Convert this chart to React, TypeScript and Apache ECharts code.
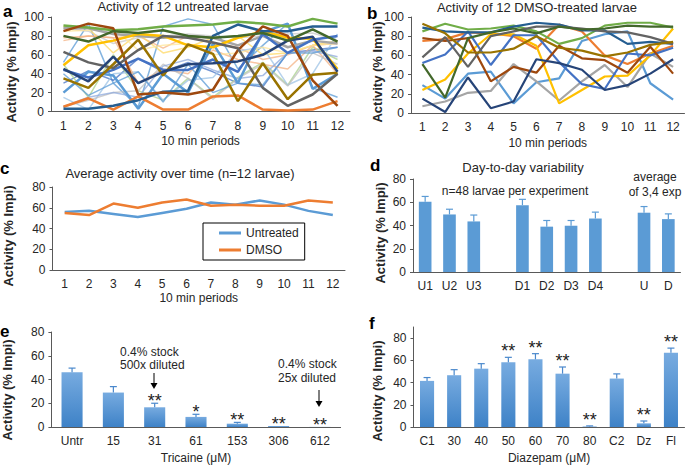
import React, { useEffect, useRef } from 'react';
import * as echarts from 'echarts';

const FONT = 'Liberation Sans, Arial, sans-serif';

const periods = ['1', '2', '3', '4', '5', '6', '7', '8', '9', '10', '11', '12'];

const traceColors = ['#5b9bd5', '#ed7d31', '#a5a5a5', '#ffc000', '#4472c4', '#70ad47', '#255e91', '#9e480e', '#636363', '#997300', '#264478', '#43682b'];
const faintColors = ['#5b9bd5', '#f4b183', '#c9c9c9', '#ffd966', '#4472c4', '#a9d18e', '#9dc3e6', '#f4b183', '#bfbfbf', '#8faadc', '#ffe699', '#5b9bd5'];

// panel a: 12 untreated larvae (bold traces)
const untreatedTraces: number[][] = [
  [20, 42, 38, 3, 40, 20, 72, 30, 84, 93, 24, 40],
  [5, 14, 2, 16, 2, 2, 16, 17, 2, 1, 2, 11],
  [88, 88, 82, 80, 78, 80, 78, 70, 80, 68, 75, 72],
  [49, 70, 75, 82, 80, 70, 68, 78, 85, 78, 77, 45],
  [44, 36, 44, 56, 44, 44, 55, 42, 82, 62, 76, 80],
  [91, 89, 86, 87, 90, 91, 92, 95, 93, 90, 98, 93],
  [3, 3, 6, 12, 21, 22, 80, 92, 85, 85, 90, 90],
  [85, 93, 88, 18, 20, 18, 23, 65, 90, 80, 33, 6],
  [63, 52, 46, 65, 80, 78, 73, 67, 25, 6, 18, 40],
  [35, 25, 50, 76, 38, 71, 61, 11, 51, 13, 39, 41],
  [45, 32, 58, 30, 42, 50, 51, 53, 60, 75, 79, 42],
  [80, 74, 85, 83, 86, 80, 78, 80, 83, 75, 87, 74],
];
// panel a: fainter traces in the background
const untreatedFaintTraces: number[][] = [
  [52, 93, 30, 5, 90, 98, 92, 45, 70, 93, 25, 15],
  [78, 80, 78, 80, 67, 80, 72, 68, 55, 60, 70, 72],
  [88, 85, 72, 78, 80, 82, 80, 78, 80, 82, 83, 75],
  [90, 88, 62, 82, 62, 68, 78, 80, 60, 62, 70, 75],
  [30, 43, 33, 56, 42, 52, 42, 30, 26, 62, 65, 68],
  [50, 15, 60, 22, 12, 35, 15, 36, 52, 28, 68, 55],
  [15, 2, 40, 42, 12, 33, 36, 64, 68, 28, 40, 82],
  [75, 80, 78, 30, 45, 40, 65, 55, 50, 45, 70, 40],
  [5, 12, 20, 22, 50, 35, 13, 35, 50, 27, 62, 50],
  [5, 15, 20, 15, 48, 55, 44, 35, 38, 62, 64, 58],
  [85, 86, 88, 65, 70, 72, 60, 62, 68, 62, 70, 72],
  [40, 17, 30, 42, 10, 50, 20, 30, 28, 62, 62, 68],
];
// panel b: 12 DMSO-treated larvae
const dmsoTraces: number[][] = [
  [29, 15, 41, 43, 10, 32, 36, 75, 82, 85, 31, 14],
  [75, 77, 84, 83, 80, 67, 92, 85, 60, 51, 62, 70],
  [7, 12, 21, 23, 51, 33, 13, 33, 50, 27, 62, 48],
  [24, 35, 62, 82, 82, 70, 10, 24, 38, 39, 60, 88],
  [52, 61, 85, 50, 81, 81, 53, 30, 25, 62, 60, 68],
  [85, 93, 87, 88, 91, 85, 72, 78, 91, 94, 94, 89],
  [89, 85, 84, 84, 90, 94, 92, 86, 86, 72, 74, 72],
  [78, 75, 78, 33, 48, 42, 70, 57, 55, 42, 69, 41],
  [58, 79, 48, 80, 85, 90, 90, 88, 85, 84, 79, 72],
  [93, 83, 63, 63, 67, 80, 68, 65, 59, 63, 71, 74],
  [15, 1, 37, 5, 12, 56, 52, 45, 24, 29, 41, 56],
  [51, 16, 78, 84, 88, 83, 90, 87, 88, 91, 90, 90],
];

// panel c
const avgUntreated = [56, 57, 54, 51, 55, 59, 65, 63, 67, 63, 57, 53];
const avgDmso = [55, 53, 64, 60, 65, 68, 62, 63, 62, 62, 67, 65];

// panel d
const dayCategories = ['U1', 'U2', 'U3', ' ', 'D1', 'D2', 'D3', 'D4', '  ', 'U', 'D'];
const dayValues: (number | null)[] = [60.5, 49.5, 43.5, null, 57.5, 39, 39.8, 46, null, 51, 45.5];
const dayErrors: (number | null)[] = [4.5, 4.5, 5.5, null, 5, 5.3, 4.5, 5.5, null, 5.3, 4.5];

// panel e
const tricaineCategories = ['Untr', '15', '31', '61', '153', '306', '612'];
const tricaineValues = [46.2, 29, 16.6, 8.5, 2.8, 0.8, 0.1];
const tricaineErrors = [3.4, 5, 3.4, 2.2, 1.1, 0.3, 0];
const tricaineStars = ['', '', '**', '*', '**', '**', '**'];

// panel f
const diazepamCategories = ['C1', '30', '40', '50', '60', '70', '80', 'C2', 'Dz', 'Fl'];
const diazepamValues = [41.5, 46.6, 52.5, 58.2, 60.9, 48, 0.5, 43.6, 3.3, 66.9];
const diazepamErrors = [3, 5, 4.5, 4.5, 5.1, 6, 0.5, 4.2, 2.1, 4.1];
const diazepamStars = ['', '', '', '**', '**', '**', '**', '', '**', '**'];

const TEXT = '#262626';
const AXIS = '#595959';

function xCat(gridIndex: number, data: string[], name: string, nameGap: number) {
  return {
    gridIndex, type: 'category', data, boundaryGap: true,
    axisLine: { show: true, lineStyle: { color: AXIS, width: 1 } },
    axisTick: { show: false },
    axisLabel: { color: TEXT, fontSize: 12, fontFamily: FONT, margin: 8, interval: 0 },
    name, nameLocation: 'middle', nameGap,
    nameTextStyle: { color: TEXT, fontSize: 12, fontFamily: FONT },
  };
}
function yVal(gridIndex: number, max: number, hideMax = false) {
  return {
    gridIndex, type: 'value', min: 0, max, interval: 20,
    splitLine: { show: false },
    axisLine: { show: true, lineStyle: { color: AXIS, width: 1 } },
    axisTick: { show: true, length: 3, lineStyle: { color: AXIS } },
    axisLabel: { color: TEXT, fontSize: 12, fontFamily: FONT, margin: 7, showMaxLabel: !hideMax },
  };
}

function errorSeries(axis: number, values: (number | null)[], errors: (number | null)[], stars: string[] | null, starOffset: number, color: string) {
  const data: number[][] = [];
  values.forEach((v, i) => {
    if (v == null) return;
    data.push([i, v, v + (errors[i] || 0)]);
  });
  return {
    type: 'custom', xAxisIndex: axis, yAxisIndex: axis,
    dimensions: ['x', 'v', 'e'], encode: { x: 0, y: [1, 2] },
    data, z: 5, silent: true,
    renderItem: (params: any, api: any) => {
      const idx = api.value(0);
      const p0 = api.coord([idx, api.value(1)]);
      const p1 = api.coord([idx, api.value(2)]);
      const children: any[] = [];
      if (p0[1] - p1[1] > 0.5) {
        children.push({ type: 'line', shape: { x1: p0[0], y1: p0[1], x2: p1[0], y2: p1[1] }, style: { stroke: color, lineWidth: 1.2 } });
        children.push({ type: 'line', shape: { x1: p1[0] - 3.5, y1: p1[1], x2: p1[0] + 3.5, y2: p1[1] }, style: { stroke: color, lineWidth: 1.2 } });
      }
      if (stars && stars[idx]) {
        children.push({
          type: 'text', x: p1[0], y: p1[1] - starOffset,
          style: { text: stars[idx], fontSize: 18, fontFamily: FONT, fill: '#222', align: 'center', textAlign: 'center', verticalAlign: 'middle', textVerticalAlign: 'middle' },
        });
      }
      return { type: 'group', children };
    },
  };
}

function txt(x: number, y: number, text: string, size: number, opts: any = {}) {
  return {
    type: 'text', x, y, silent: true, rotation: opts.rotation || 0,
    style: {
      text, fontSize: size, fontFamily: FONT, fill: opts.fill || TEXT, fontWeight: opts.bold ? 'bold' : 'normal',
      align: opts.align || 'center', textAlign: opts.align || 'center',
      verticalAlign: 'middle', textVerticalAlign: 'middle',
    },
  };
}

const Y_NAME = 'Activity (% Impi)';

export default function App() {
  const ref = useRef<HTMLDivElement>(null);
  useEffect(() => {
    const chart = echarts.init(ref.current!, null, { renderer: 'svg' });
    const barGrad = new echarts.graphic.LinearGradient(0, 0, 0, 1, [
      { offset: 0, color: '#77abe0' },
      { offset: 1, color: '#3e82c7' },
    ]);
    const series: any[] = [];
    untreatedFaintTraces.forEach((d, i) => series.push({
      type: 'line', xAxisIndex: 0, yAxisIndex: 0, data: d, symbol: 'none', silent: true,
      lineStyle: { width: 1.5, color: faintColors[i], opacity: 0.75 }, itemStyle: { color: faintColors[i] }, z: 2,
    }));
    untreatedTraces.forEach((d, i) => series.push({
      type: 'line', xAxisIndex: 0, yAxisIndex: 0, data: d, symbol: 'none', silent: true,
      lineStyle: { width: 2.5, color: traceColors[i] }, itemStyle: { color: traceColors[i] }, z: 3,
    }));
    dmsoTraces.forEach((d, i) => series.push({
      type: 'line', xAxisIndex: 1, yAxisIndex: 1, data: d, symbol: 'none', silent: true,
      lineStyle: { width: 2.2, color: traceColors[i] }, itemStyle: { color: traceColors[i] }, z: 3,
    }));
    series.push({
      name: 'Untreated', type: 'line', xAxisIndex: 2, yAxisIndex: 2, data: avgUntreated, symbol: 'none',
      lineStyle: { width: 2.5, color: '#5b9bd5' }, itemStyle: { color: '#5b9bd5' },
    });
    series.push({
      name: 'DMSO', type: 'line', xAxisIndex: 2, yAxisIndex: 2, data: avgDmso, symbol: 'none',
      lineStyle: { width: 2.5, color: '#ed7d31' }, itemStyle: { color: '#ed7d31' },
    });
    series.push({
      type: 'bar', xAxisIndex: 3, yAxisIndex: 3, data: dayValues.map((v) => (v == null ? '-' : v)),
      barWidth: '52%', itemStyle: { color: '#5b9bd5' }, silent: true,
    });
    series.push(errorSeries(3, dayValues, dayErrors, null, 0, '#5b9bd5'));
    series.push({
      type: 'bar', xAxisIndex: 4, yAxisIndex: 4, data: tricaineValues,
      barWidth: '51%', itemStyle: { color: barGrad }, silent: true,
    });
    series.push(errorSeries(4, tricaineValues, tricaineErrors, tricaineStars, 2, '#4a88cc'));
    series.push({
      type: 'bar', xAxisIndex: 5, yAxisIndex: 5, data: diazepamValues,
      barWidth: '52%', itemStyle: { color: barGrad }, silent: true,
    });
    series.push(errorSeries(5, diazepamValues, diazepamErrors, diazepamStars, 6, '#4a88cc'));

    const rot = Math.PI / 2;
    chart.setOption({
      animation: false,
      textStyle: { fontFamily: FONT },
      grid: [
        { left: 51, top: 17, width: 299, height: 94.5, containLabel: false },
        { left: 411, top: 17, width: 273.5, height: 96, containLabel: false },
        { left: 52.5, top: 187, width: 292.5, height: 83, containLabel: false },
        { left: 413, top: 179, width: 267.5, height: 93, containLabel: false },
        { left: 51.4, top: 332, width: 289.2, height: 95, containLabel: false },
        { left: 413.5, top: 327, width: 271, height: 100, containLabel: false },
      ],
      xAxis: [
        xCat(0, periods, '10 min periods', 23),
        xCat(1, periods, '10 min periods', 24),
        xCat(2, periods, '10 min periods', 22),
        xCat(3, dayCategories, '', 0),
        xCat(4, tricaineCategories, 'Tricaine (\u03bcM)', 25),
        xCat(5, diazepamCategories, 'Diazepam (\u03bcM)', 25),
      ],
      yAxis: [
        yVal(0, 100),
        yVal(1, 100),
        yVal(2, 80),
        yVal(3, 80),
        yVal(4, 80),
        yVal(5, 90, true),
      ],
      legend: {
        data: ['Untreated', 'DMSO'], orient: 'vertical', left: 203, top: 223,
        borderColor: '#000', borderWidth: 1, padding: [4, 6, 4, 16], itemGap: 5,
        itemWidth: 22, itemHeight: 3, icon: 'rect',
        textStyle: { color: TEXT, fontSize: 12, fontFamily: FONT },
      },
      graphic: [
        txt(3, 11, 'a', 17, { bold: true, align: 'left', fill: '#000' }),
        txt(367, 13, 'b', 17, { bold: true, align: 'left', fill: '#000' }),
        txt(0, 168, 'c', 17, { bold: true, align: 'left', fill: '#000' }),
        txt(370, 165, 'd', 17, { bold: true, align: 'left', fill: '#000' }),
        txt(0, 331, 'e', 17, { bold: true, align: 'left', fill: '#000' }),
        txt(369, 323, 'f', 17, { bold: true, align: 'left', fill: '#000' }),
        txt(11, 72, Y_NAME, 13, { bold: true, rotation: rot }),
        txt(377, 72, Y_NAME, 13, { bold: true, rotation: rot }),
        txt(8, 236, Y_NAME, 13, { bold: true, rotation: rot }),
        txt(380, 233, Y_NAME, 13, { bold: true, rotation: rot }),
        txt(7, 390, Y_NAME, 13, { bold: true, rotation: rot }),
        txt(377, 391, Y_NAME, 13, { bold: true, rotation: rot }),
        txt(183, 6, 'Activity of 12 untreated larvae', 13),
        txt(537, 7, 'Activity of 12 DMSO-treated larvae', 13),
        txt(180, 173, 'Average activity over time (n=12 larvae)', 13),
        txt(523, 167, 'Day-to-day variability', 13),
        txt(515, 191, 'n=48 larvae per experiment', 12),
        txt(655, 177, 'average', 12),
        txt(655, 192, 'of 3,4 exp', 12),
        txt(120, 352, '0.4% stock', 12, { align: 'left' }),
        txt(120, 365, '500x diluted', 12, { align: 'left' }),
        txt(278, 364, '0.4% stock', 12, { align: 'left' }),
        txt(278, 378, '25x diluted', 12, { align: 'left' }),
        { type: 'line', silent: true, shape: { x1: 154, y1: 373, x2: 154, y2: 384 }, style: { stroke: '#000', lineWidth: 1 } },
        { type: 'polygon', silent: true, shape: { points: [[150.5, 383], [157.5, 383], [154, 389]] }, style: { fill: '#000' } },
        { type: 'line', silent: true, shape: { x1: 319, y1: 390, x2: 319, y2: 402 }, style: { stroke: '#000', lineWidth: 1 } },
        { type: 'polygon', silent: true, shape: { points: [[315.5, 401], [322.5, 401], [319, 407]] }, style: { fill: '#000' } },
      ],
      series,
    });
    return () => chart.dispose();
  }, []);
  return <div ref={ref} style={{ width: 685, height: 465, position: 'absolute', left: 0, top: 0 }} />;
}
